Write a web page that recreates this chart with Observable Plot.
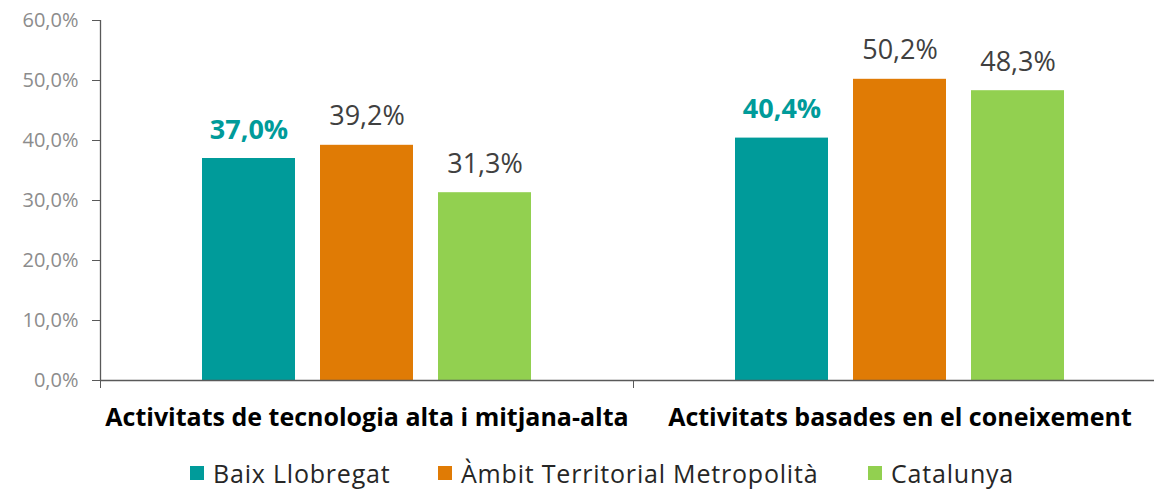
<!DOCTYPE html>
<html>
<head>
<meta charset="utf-8">
<script src="https://cdn.jsdelivr.net/npm/d3@7"></script>
<script src="https://cdn.jsdelivr.net/npm/@observablehq/plot@0.6"></script>
<style>
  html, body { margin: 0; padding: 0; background: #fff; overflow: hidden; width: 1154px; height: 490px; }
  #chart svg { display: block; max-width: none; }
  .legend { position: relative; display: flex; align-items: center; margin-left: 190px; margin-top: 18px; font-family: "Open Sans", sans-serif; font-size: 25px; letter-spacing: 0.8px; color: #262626; line-height: 30px; }
  .legend .item { display: flex; align-items: center; white-space: nowrap; }
  .legend .sw { width: 14px; height: 14px; margin-right: 9px; flex: none; }
</style>
</head>
<body>
<div id="chart"></div>
<div class="legend" id="legend"></div>
<script>
const categories = ["Activitats de tecnologia alta i mitjana-alta", "Activitats basades en el coneixement"];
const series = ["Baix Llobregat", "Àmbit Territorial Metropolità", "Catalunya"];
const baixLlobregat = [37.0, 40.4];
const ambitMetropolita = [39.2, 50.2];
const catalunya = [31.3, 48.3];
const colors = ["#009B9A", "#E07B05", "#92D050"];
const yTicks = [0, 10, 20, 30, 40, 50, 60];

const values = [baixLlobregat, ambitMetropolita, catalunya];
const rows = [];
categories.forEach((cat, ci) => {
  series.forEach((s, si) => {
    rows.push({cat, ci, series: s, si, value: values[si][ci]});
  });
});

const step = 118 / 533;
const barW = 93 / 533;
const center = d => d.ci + 0.5 + (d.si - 1) * step;
const fmt = v => v.toFixed(1).replace(".", ",") + "%";
const font = "'Open Sans', sans-serif";

const plot = Plot.plot({
  width: 1166,
  height: 440,
  marginLeft: 100,
  marginRight: 0,
  marginTop: 20,
  marginBottom: 60,
  style: {fontFamily: font, background: "#fff", overflow: "visible", maxWidth: "none"},
  x: {domain: [0, 2], axis: null},
  y: {domain: [0, 60], axis: null},
  color: {domain: series, range: colors},
  marks: [
    Plot.rectY(rows, {x1: d => center(d) - barW / 2, x2: d => center(d) + barW / 2, y1: 0, y2: "value", fill: "series"}),
    Plot.ruleY([0], {stroke: "#595959", strokeWidth: 1.3}),
    Plot.ruleX([0], {y1: 0, y2: 60, stroke: "#595959", strokeWidth: 1.3}),
    Plot.axisY({ticks: yTicks, label: null, tickSize: 8, tickPadding: 14, tickFormat: fmt, stroke: "#595959", fill: "#8c8c8c", fontSize: 20}),
    Plot.axisX({ticks: [0, 1, 2], label: null, tickSize: 8, tickFormat: () => "", stroke: "#595959"}),
    Plot.axisX({ticks: [0.5, 1.5], label: null, tickSize: 0, tickPadding: 28, tickFormat: d => categories[Math.floor(d)], fill: "#000", fontWeight: "bold", fontSize: 25}),
    Plot.text(rows.filter(d => d.si === 0), {x: center, y: "value", text: d => fmt(d.value), dy: -20, lineAnchor: "bottom", fill: colors[0], fontWeight: "bold", fontSize: 27}),
    Plot.text(rows.filter(d => d.si !== 0), {x: center, y: "value", text: d => fmt(d.value), dy: -20, lineAnchor: "bottom", fill: "#404040", fontSize: 27})
  ]
});
document.getElementById("chart").appendChild(plot);

const legend = document.getElementById("legend");
const itemWidths = ["248px", "430px", "auto"];
series.forEach((s, i) => {
  const item = document.createElement("div");
  item.className = "item";
  item.style.width = itemWidths[i];
  const sw = document.createElement("span");
  sw.className = "sw";
  sw.style.background = colors[i];
  const t = document.createElement("span");
  t.textContent = s;
  item.appendChild(sw);
  item.appendChild(t);
  legend.appendChild(item);
});
</script>
</body>
</html>
